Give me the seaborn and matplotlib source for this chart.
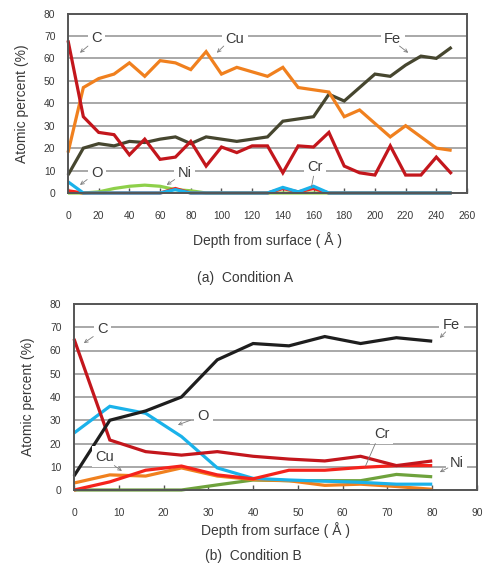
import numpy as np
import pandas as pd
import matplotlib
matplotlib.use("Agg")
import matplotlib.pyplot as plt
import seaborn as sns

# ---------------- data: Condition A ----------------
depth_a = [0, 10, 20, 30, 40, 50, 60, 70, 80, 90, 100, 110, 120, 130, 140, 150,
           160, 170, 180, 190, 200, 210, 220, 230, 240, 250]
fe_a = [8, 20, 22, 21, 23, 22.5, 24, 25, 22, 25, 24, 23, 24, 25, 32, 33, 34, 44,
        41, 47, 53, 52, 57, 61, 60, 65]
cu_a = [18, 47, 51, 53, 58, 52, 59, 58, 55, 63, 53, 56, 54, 52, 56, 47, 46, 45,
        34, 37, 31, 25, 30, 25, 20, 19]
c_a = [68, 34, 27, 26, 17, 24, 15, 16, 23, 12, 20.5, 18, 21, 21, 9, 21, 20.5, 27,
       12, 9, 8, 21, 8, 8, 16, 8.5]
ni_a = [0, 0, 0.5, 2, 3, 3.5, 3, 1.5, 1, 0, 0, 0, 0, 0, 0, 0, 0, 0, 0, 0, 0, 0,
        0, 0, 0, 0]
cr_a = [1, 0, 0, 0, 0, 0, 0, 2, 0, 0, 0, 0, 0, 0, 2, 0.5, 2, 0, 0, 0, 0, 0, 0,
        0, 0, 0]
o_a = [5, 0, 0, 0, 0, 0, 0, 1.5, 0, 0, 0, 0, 0, 0, 2.5, 0.5, 3, 0, 0, 0, 0, 0,
       0, 0, 0, 0]

# ---------------- data: Condition B ----------------
depth_b = [0, 8, 16, 24, 32, 40, 48, 56, 64, 72, 80]
fe_b = [6, 30, 34, 40, 56, 63, 62, 66, 63, 65.5, 64]
c_b = [65, 21.5, 16.5, 15, 16.5, 14.5, 13.3, 12.5, 14.5, 10.5, 12.5]
o_b = [24.5, 36, 33, 23, 9.5, 5, 4.3, 3.8, 3.3, 2.5, 2.5]
cu_b = [3, 6.5, 6, 9.5, 6, 4.5, 4, 2, 2.5, 1.5, 0.3]
cr_b = [0, 3.5, 8.5, 10.3, 6.5, 4.8, 8.5, 8.5, 9.7, 10.5, 10.5]
ni_b = [0, 0, 0, 0, 2.2, 4.3, 4, 4, 4, 6.7, 5.7]

yticks = [0, 10, 20, 30, 40, 50, 60, 70, 80]
xticks_a = list(range(0, 261, 20))
xticks_b = list(range(0, 91, 10))

sns.set_theme(style="white")
plt.rcParams['font.family'] = ['Liberation Sans', 'DejaVu Sans']

TXT = "#3a3a3a"
GRID = "#a8a8a8"
col = {
    "Fe_a": "#46462f", "Fe_b": "#1e1e1e",
    "C": "#c3161c", "Cu": "#f0801e", "O": "#1ab2ea",
    "Cr": "#f5231c", "Ni_a": "#8ed04a", "Ni_b": "#6ea23c",
}

fig = plt.figure(figsize=(4.87, 5.66), dpi=100)
ax1 = fig.add_axes([68/487, 1-193/566, (467-68)/487, (193-13.5)/566])
ax2 = fig.add_axes([74/487, 1-490/566, (477-74)/487, (490-304)/566])

LW = 2.3


def style_axes(ax, xlim, xticks):
    ax.set_xlim(*xlim)
    ax.set_ylim(0, 80)
    ax.set_yticks(yticks)
    ax.set_xticks(xticks)
    ax.grid(axis='y', color=GRID, lw=1.4)
    ax.grid(axis='x', visible=False)
    ax.set_axisbelow(True)
    for s in ax.spines.values():
        s.set_color("#555555")
        s.set_linewidth(1.4)
    ax.tick_params(axis='x', direction='in', length=3.5, width=1.0, color="#555555",
                   pad=13, labelsize=7.4, labelcolor=TXT, bottom=True)
    ax.tick_params(axis='y', length=0, pad=9, labelsize=7.4, labelcolor=TXT, left=False)
    ax.set_ylabel("Atomic percent (%)", fontsize=10, color=TXT, labelpad=11)


def draw(ax, x, y, c):
    df = pd.DataFrame({"x": x, "y": y})
    sns.lineplot(data=df, x="x", y="y", ax=ax, color=c, lw=LW, clip_on=False,
                 solid_joinstyle='miter', solid_capstyle='butt')


# ---- panel (a)
draw(ax1, depth_a, ni_a, col["Ni_a"])
draw(ax1, depth_a, fe_a, col["Fe_a"])
draw(ax1, depth_a, cu_a, col["Cu"])
draw(ax1, depth_a, c_a, col["C"])
draw(ax1, depth_a, cr_a, col["Cr"])
draw(ax1, depth_a, o_a, col["O"])
style_axes(ax1, (0, 260), xticks_a)
ax1.set_xlabel("Depth from surface ( Å )", fontsize=10, color=TXT, labelpad=8)

# ---- panel (b)
draw(ax2, depth_b, ni_b, col["Ni_b"])
draw(ax2, depth_b, cu_b, col["Cu"])
draw(ax2, depth_b, o_b, col["O"])
draw(ax2, depth_b, cr_b, col["Cr"])
draw(ax2, depth_b, c_b, col["C"])
draw(ax2, depth_b, fe_b, col["Fe_b"])
style_axes(ax2, (0, 90), xticks_b)
ax2.set_xlabel("Depth from surface ( Å )", fontsize=10, color=TXT, labelpad=3)

box = dict(facecolor='white', edgecolor='none', pad=2.5)
arrow = dict(arrowstyle='->', color="#7a7a7a", lw=0.6, shrinkA=0, shrinkB=0,
             mutation_scale=6)
line = dict(arrowstyle='-', color="#7a7a7a", lw=0.6, shrinkA=0, shrinkB=0)


def lab(ax, text, txy, a_from, a_to, props=arrow):
    ax.text(txy[0], txy[1], text, fontsize=10.5, color=TXT, ha='center',
            va='center', bbox=box, zorder=5)
    ax.annotate("", xy=a_to, xytext=a_from, arrowprops=props, zorder=6)


lab(ax1, "C", (18.7, 69), (13, 65.5), (7.8, 62.5))
lab(ax1, "Cu", (108.8, 68.6), (101.5, 65.5), (97, 62.5))
lab(ax1, "Fe", (211.5, 68.6), (216, 65.5), (221.7, 62.5))
lab(ax1, "O", (19, 8.8), (12.5, 6), (7.8, 3.6))
lab(ax1, "Ni", (76, 8.8), (69.5, 6), (64.3, 3.6))
lab(ax1, "Cr", (161, 11.7), (160, 7.5), (158.7, 2.8), props=line)

lab(ax2, "C", (6.4, 69.1), (4.3, 66), (2.2, 63.2))
lab(ax2, "O", (28.9, 31.8), (26, 30), (23.2, 28))
lab(ax2, "Cu", (6.9, 14.3), (9, 10.5), (10.7, 8.2))
lab(ax2, "Fe", (84.3, 71), (83, 68), (81.7, 65.4))
lab(ax2, "Cr", (68.7, 24.1), (67.3, 20), (65.1, 10.3), props=line)
lab(ax2, "Ni", (85.5, 11.5), (83.5, 9.5), (81.7, 7.7))

fig.text(245/487, 1-278/566, "(a)  Condition A", fontsize=10, color=TXT,
         ha='center', va='center')
fig.text(253/487, 1-556/566, "(b)  Condition B", fontsize=10, color=TXT,
         ha='center', va='center')

fig.savefig("out.png", dpi=100, facecolor='white')
